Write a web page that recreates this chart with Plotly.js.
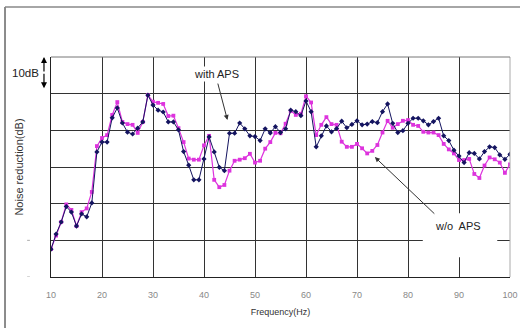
<!DOCTYPE html>
<html><head><meta charset="utf-8">
<script src="https://cdn.plot.ly/plotly-3.0.1.min.js"></script>
<style>html,body{margin:0;padding:0;background:#fff}#c{width:520px;height:328px}</style>
</head><body><div id="c"></div>
<script>
const freq = [];
for (let f = 10; f <= 100; f++) freq.push(f);

const withAPS = [7.6,11.7,15.0,19.2,17.7,13.9,17.2,16.4,20.2,34.1,
 36.8,36.8,43.4,46.1,42.0,39.5,39.0,40.6,42.3,49.6,
 46.9,45.5,45.0,42.3,42.3,40.1,34.2,30.5,26.5,26.5,
 32.2,38.2,34.1,29.9,29.0,39.2,39.2,42.0,40.4,38.5,
 38.3,37.2,40.4,39.3,41.0,39.4,40.4,45.5,45.1,44.0,
 48.0,45.1,35.5,38.5,41.2,39.6,40.5,42.5,40.7,41.6,
 42.6,41.5,41.7,42.4,42.1,45.1,47.2,41.9,39.4,39.9,
 41.9,43.3,43.3,42.6,41.5,42.4,43.3,38.5,37.2,34.6,
 33.0,31.2,33.9,33.7,32.2,34.2,35.5,35.3,33.3,32.1,33.5];

const withoutAPS = [7.6,11.3,15.0,19.8,18.3,13.9,17.7,18.7,23.2,35.7,
 37.9,38.7,44.2,47.7,42.3,41.7,41.5,39.3,42.3,49.6,
 47.8,47.5,47.2,43.9,44.0,40.6,36.8,32.3,32.0,32.0,
 35.9,38.5,26.5,24.5,25.1,29.0,31.7,32.0,32.4,33.6,
 31.2,31.7,35.0,36.8,39.3,39.2,41.8,45.3,44.2,44.5,
 49.3,47.6,38.7,41.5,43.6,41.7,41.5,36.9,35.5,35.5,
 36.3,35.1,33.7,34.4,36.0,39.4,42.6,40.7,41.7,42.6,
 42.8,41.5,41.2,39.6,39.4,39.4,38.7,36.3,34.8,33.7,
 31.9,31.9,32.2,28.1,27.0,30.4,32.6,32.1,31.2,28.4,30.7];

const xTicks = [10,20,30,40,50,60,70,80,90,100];

const traces = [
 {x: freq, y: withoutAPS, type:'scatter', mode:'lines+markers', name:'w/o APS',
  line:{color:'#dd33dd', width:1.2}, marker:{symbol:'square', size:3.8, color:'#dd33dd'}},
 {x: freq, y: withAPS, type:'scatter', mode:'lines+markers', name:'with APS',
  line:{color:'#141460', width:1}, marker:{symbol:'diamond', size:4, color:'#141460'}}
];

const txt = {family:'Liberation Sans, Arial, sans-serif', color:'#222'};
const layout = {
 width:520, height:328,
 margin:{l:51, r:10, t:57, b:51},
 paper_bgcolor:'#fff', plot_bgcolor:'#fff',
 showlegend:false,
 xaxis:{range:[10,100], tickvals:xTicks, ticktext:xTicks.map(String),
   showgrid:true, gridcolor:'#333', gridwidth:1, zeroline:false,
   showline:true, linecolor:'#222', linewidth:1.2, mirror:false,
   ticks:'outside', ticklen:9, tickcolor:'rgba(0,0,0,0)',
   tickfont:{family:'Liberation Sans, Arial, sans-serif', size:9, color:'#888'},
   title:{text:'Frequency(Hz)', standoff:9, font:{family:'Liberation Sans Narrow, Liberation Sans, Arial, sans-serif', size:9, color:'#333'}}},
 yaxis:{range:[0,60], dtick:10, showticklabels:false,
   showgrid:true, gridcolor:'#333', gridwidth:1, zeroline:false,
   showline:true, linecolor:'#222', linewidth:1.2,
   title:{text:'Noise reduction(dB)', standoff:24, font:{family:'Liberation Sans, Arial, sans-serif', size:11, color:'#333'}}},
 shapes:[
  {type:'line', xref:'paper', yref:'paper', x0:-0.1002, x1:-0.1002, y0:-0.3, y1:1.227, line:{color:'#666', width:1.5}},
  {type:'line', xref:'paper', yref:'paper', x0:-0.1002, x1:1.05, y0:1.227, y1:1.227, line:{color:'#888', width:1.5}},
  {type:'line', xref:'paper', yref:'paper', x0:1, x1:1, y0:0, y1:1, line:{color:'#aaa', width:1}},
  {type:'line', xref:'paper', yref:'paper', x0:0, x1:1, y0:1, y1:1, line:{color:'#777', width:1}},
  {type:'line', xref:'paper', yref:'y', x0:-0.052, x1:-0.046, y0:10, y1:10, line:{color:'#aaa', width:1}},
  {type:'line', xref:'paper', yref:'y', x0:-0.052, x1:-0.046, y0:0, y1:0, line:{color:'#aaa', width:1}},
  {type:'rect', xref:'x', yref:'y', x0:82.9, x1:97.5, y0:5.4, y1:17.4, fillcolor:'#fff', line:{width:0}, layer:'above'}
 ],
 annotations:[
  {xref:'paper', yref:'y', x:-0.0545, y:55.6, text:'10dB', showarrow:false, xanchor:'center', font:Object.assign({size:11.5}, txt)},
  {xref:'paper', yref:'y', x:-0.0153, y:60, ax:0, ay:16, text:'', showarrow:true, arrowhead:2, arrowsize:1, arrowwidth:1.2, arrowcolor:'#000'},
  {xref:'paper', yref:'y', x:-0.0153, y:51.5, ax:0, ay:-16, text:'', showarrow:true, arrowhead:2, arrowsize:1, arrowwidth:1.2, arrowcolor:'#000'},
  {xref:'x', yref:'y', x:42.4, y:55.5, text:'with APS', showarrow:false, bgcolor:'#fff', font:Object.assign({size:11}, txt)},
  {xref:'x', yref:'y', x:44.6, y:42.8, ax:-10, ay:-38, text:'', showarrow:true, arrowhead:2, arrowsize:1, arrowwidth:1, arrowcolor:'#333'},
  {xref:'x', yref:'y', x:73.5, y:32.7, ax:61, ay:58, text:'', showarrow:true, arrowhead:2, arrowsize:1, arrowwidth:1, arrowcolor:'#333'},
  {xref:'x', yref:'y', x:89.8, y:13.8, text:'w/o  APS', showarrow:false, bgcolor:'#fff', font:Object.assign({size:11}, txt)}
 ]
};
Plotly.newPlot('c', traces, layout, {staticPlot:true, displayModeBar:false});
</script></body></html>
